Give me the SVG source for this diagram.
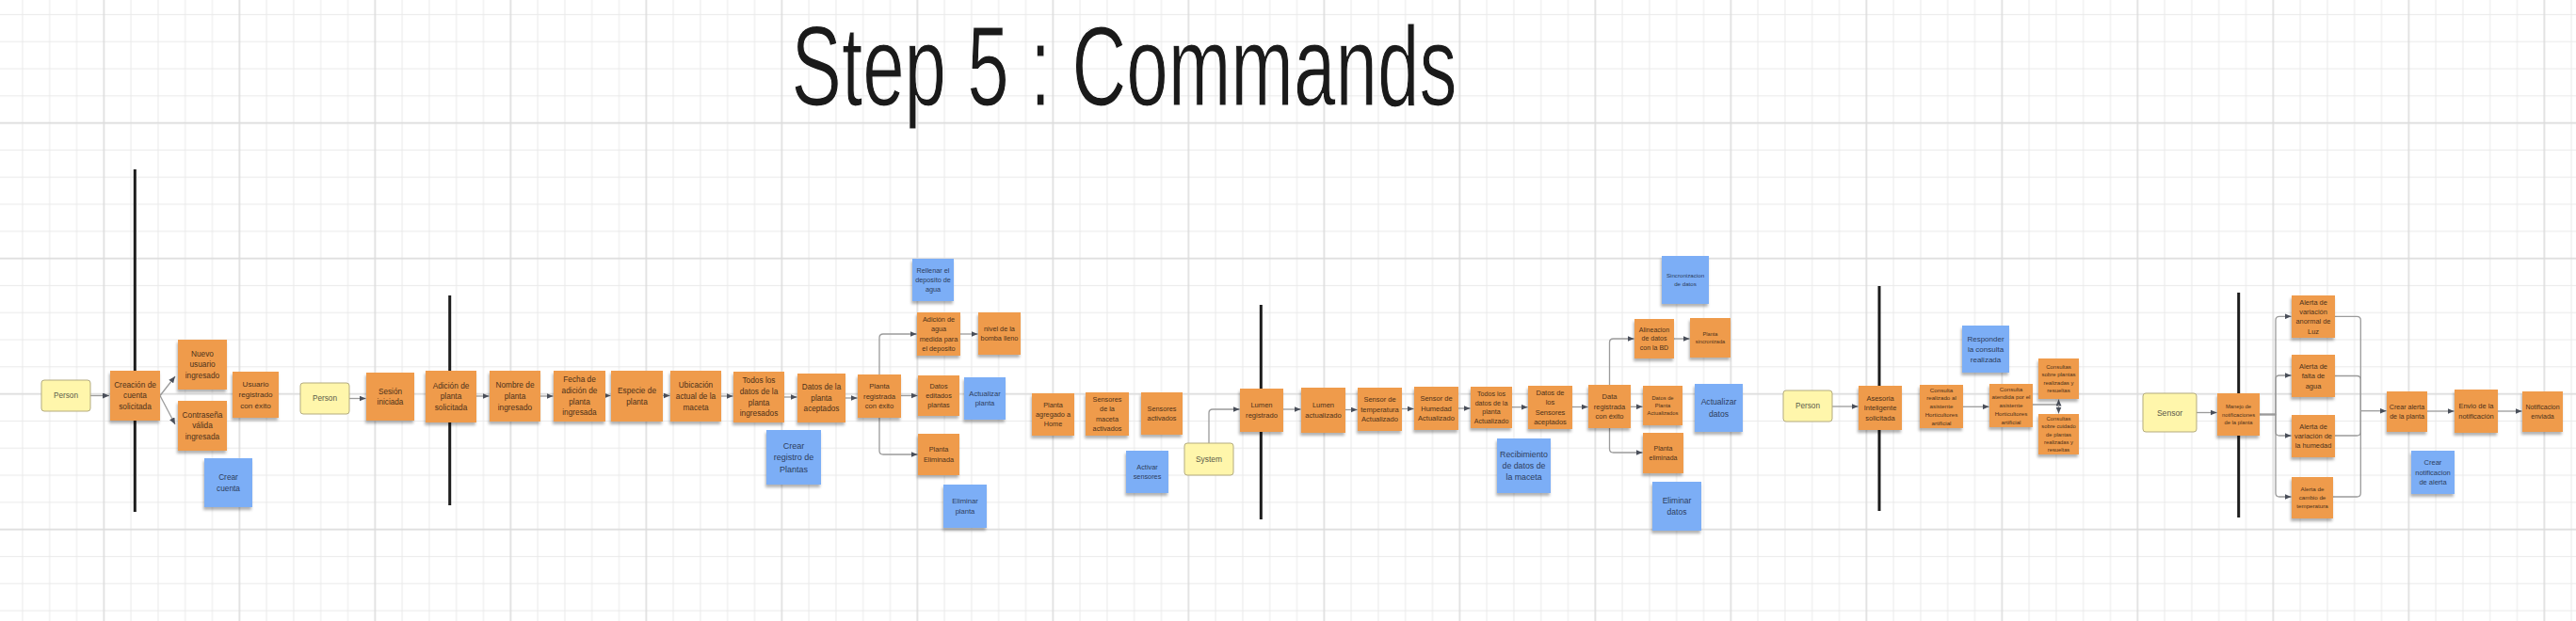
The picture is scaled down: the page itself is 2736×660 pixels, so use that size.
<svg xmlns="http://www.w3.org/2000/svg" width="2736" height="660" viewBox="0 0 2736 660">
<defs>
<pattern id="grid" patternUnits="userSpaceOnUse" x="9.5" y="1.1" width="144" height="144">
<path d="M14.4 0V144M43.2 0V144M72 0V144M129.6 0V144M0 14.4H144M0 43.2H144M0 72H144M0 100.8H144" stroke="#e9e9e9" stroke-width="1" fill="none"/>
<path d="M100.8 0V144M0 129.6H144" stroke="#dcdcdc" stroke-width="1.6" fill="none"/>
</pattern>
<filter id="sh" x="-20%" y="-20%" width="140%" height="150%">
<feDropShadow dx="-1" dy="3" stdDeviation="1.5" flood-color="#000" flood-opacity="0.3"/>
</filter>
<marker id="ah" markerUnits="userSpaceOnUse" markerWidth="8" markerHeight="6" refX="7" refY="3" orient="auto">
<path d="M0,0 L7,3 L0,6 z" fill="#4a4f5a"/>
</marker>
<style>
.o{fill:#ef9b4b;filter:url(#sh)}
.b{fill:#7baef6;filter:url(#sh)}
.y{fill:#fff6ab;stroke:#b3ab7f;stroke-width:1}
text{font-family:"Liberation Sans",Arial,sans-serif;text-anchor:middle}
.to{fill:#4d3119}
.tb{fill:#2c3d5c}
.ty{fill:#5b5a4a}
.c{fill:none;stroke:#9b9b9b;stroke-width:1.3}
.bar{stroke:#1c1c1c;stroke-width:3}
.title{fill:#1a1a1a;stroke:#ffffff;stroke-width:0.8;paint-order:normal}
</style>
</defs>
<rect x="0" y="0" width="2736" height="660" fill="#ffffff"/>
<rect x="0" y="0" width="2736" height="660" fill="url(#grid)"/>
<text class="title" transform="translate(1194,112) scale(1,1.5)" x="0" y="0" font-size="80">Step 5 : Commands</text>

<g id="dividers">
<line class="bar" x1="143.3" y1="180" x2="143.3" y2="544"/>
<line class="bar" x1="477.7" y1="314" x2="477.7" y2="537"/>
<line class="bar" x1="1339.3" y1="324" x2="1339.3" y2="552"/>
<line class="bar" x1="1996" y1="304" x2="1996" y2="543"/>
<line class="bar" x1="2377.7" y1="311" x2="2377.7" y2="550"/>
</g>

<g id="connectors">
<path class="c" marker-end="url(#ah)" d="M96,420.5 H116"/>
<path class="c" marker-end="url(#ah)" d="M170,420.5 L186,400"/>
<path class="c" marker-end="url(#ah)" d="M170,420.5 L186,451"/>
<path class="c" marker-end="url(#ah)" d="M371,423.5 H388.5"/>
<path class="c" marker-end="url(#ah)" d="M506,421 H519.5"/>
<path class="c" marker-end="url(#ah)" d="M574,421 H587.5"/>
<path class="c" marker-end="url(#ah)" d="M643,420.5 H648.5"/>
<path class="c" marker-end="url(#ah)" d="M704,420.5 H711.5"/>
<path class="c" marker-end="url(#ah)" d="M766,421 H778.5"/>
<path class="c" marker-end="url(#ah)" d="M833,422 H846.5"/>
<path class="c" marker-end="url(#ah)" d="M898,423 H910.5"/>
<path class="c" marker-end="url(#ah)" d="M934,398 V359 Q934,355 938,355 H973.5"/>
<path class="c" marker-end="url(#ah)" d="M957,420.5 H974.5"/>
<path class="c" marker-end="url(#ah)" d="M934,444 V479 Q934,483 938,483 H974.5"/>
<path class="c" marker-end="url(#ah)" d="M1020,355 H1038.5"/>
<path class="c" marker-end="url(#ah)" d="M1284,471 V439 Q1284,435 1288,435 H1316.5"/>
<path class="c" marker-end="url(#ah)" d="M1363,435 H1381.5"/>
<path class="c" marker-end="url(#ah)" d="M1429,435.5 H1441.5"/>
<path class="c" marker-end="url(#ah)" d="M1489,434.5 H1501.5"/>
<path class="c" marker-end="url(#ah)" d="M1549,434 H1561.5"/>
<path class="c" marker-end="url(#ah)" d="M1606,432.7 H1622.5"/>
<path class="c" marker-end="url(#ah)" d="M1670,432.5 H1686.5"/>
<path class="c" marker-end="url(#ah)" d="M1709.5,409 V364 Q1709.5,360 1713.5,360 H1735.5"/>
<path class="c" marker-end="url(#ah)" d="M1732,432.3 H1744.5"/>
<path class="c" marker-end="url(#ah)" d="M1709.5,455 V477 Q1709.5,481 1713.5,481 H1744.5"/>
<path class="c" marker-end="url(#ah)" d="M1778,360 H1794.5"/>
<path class="c" marker-end="url(#ah)" d="M1946,432 H1973.5"/>
<path class="c" marker-end="url(#ah)" d="M2085,432.3 H2112.5"/>
<path class="c" marker-end="url(#ah)" d="M2159,430 H2186.5 V424.5"/>
<path class="c" marker-end="url(#ah)" d="M2186.5,430 V439.5"/>
<path class="c" marker-end="url(#ah)" d="M2333,438.5 H2354.5"/>
<path class="c" marker-end="url(#ah)" d="M2400,440.5 H2417 V340.3 Q2417,336.3 2421,336.3 H2433.5"/>
<path class="c" marker-end="url(#ah)" d="M2400,440.5 H2417 V403 Q2417,399 2421,399 H2433.5"/>
<path class="c" marker-end="url(#ah)" d="M2400,440.5 H2417 V459 Q2417,463 2421,463 H2433.5"/>
<path class="c" marker-end="url(#ah)" d="M2400,440.5 H2417 V524 Q2417,528 2421,528 H2433.5"/>
<path class="c" d="M2480,336.3 H2503.3 Q2507.3,336.3 2507.3,340.3 V436.7"/>
<path class="c" d="M2480,399.5 H2503.3 Q2507.3,399.5 2507.3,403.5 V436.7"/>
<path class="c" d="M2480,463 H2503.3 Q2507.3,463 2507.3,459 V436.7"/>
<path class="c" d="M2478,528 H2503.3 Q2507.3,528 2507.3,524 V436.7"/>
<path class="c" marker-end="url(#ah)" d="M2507.3,436.7 H2534.5"/>
<path class="c" marker-end="url(#ah)" d="M2578,437 H2606.5"/>
<path class="c" marker-end="url(#ah)" d="M2653,437 H2678.5"/>
</g>

<g id="n-person-1"><rect class="y" x="44" y="404" width="52" height="33" rx="3"/><text class="ty" x="70" y="420.5" font-size="8.2"><tspan x="70" dy="0.35em">Person</tspan></text></g>
<g id="n-creacion-cuenta"><rect class="o" x="117" y="394" width="53" height="53"/><text class="to" x="143.5" y="420.5" font-size="8.3"><tspan x="143.5" dy="-1.05em">Creación de</tspan><tspan x="143.5" dy="1.4em">cuenta</tspan><tspan x="143.5" dy="1.4em">solicitada</tspan></text></g>
<g id="n-nuevo-usuario"><rect class="o" x="189" y="361" width="52" height="53"/><text class="to" x="215" y="387.5" font-size="8.3"><tspan x="215" dy="-1.05em">Nuevo</tspan><tspan x="215" dy="1.4em">usuario</tspan><tspan x="215" dy="1.4em">ingresado</tspan></text></g>
<g id="n-contrasena"><rect class="o" x="189" y="426" width="52" height="53"/><text class="to" x="215" y="452.5" font-size="8.3"><tspan x="215" dy="-1.05em">Contraseña</tspan><tspan x="215" dy="1.4em">válida</tspan><tspan x="215" dy="1.4em">ingresada</tspan></text></g>
<g id="n-crear-cuenta"><rect class="b" x="217" y="487" width="51" height="52"/><text class="tb" x="242.5" y="513" font-size="8.3"><tspan x="242.5" dy="-0.35em">Crear</tspan><tspan x="242.5" dy="1.4em">cuenta</tspan></text></g>
<g id="n-usuario-registrado"><rect class="o" x="247" y="395" width="49" height="49"/><text class="to" x="271.5" y="419.5" font-size="8.1"><tspan x="271.5" dy="-1.05em">Usuario</tspan><tspan x="271.5" dy="1.4em">registrado</tspan><tspan x="271.5" dy="1.4em">con éxito</tspan></text></g>

<g id="n-person-2"><rect class="y" x="319" y="407" width="52" height="33" rx="3"/><text class="ty" x="345" y="423.5" font-size="8.2"><tspan x="345" dy="0.35em">Person</tspan></text></g>
<g id="n-sesion"><rect class="o" x="389" y="396" width="51" height="51"/><text class="to" x="414.5" y="421.5" font-size="8.2"><tspan x="414.5" dy="-0.35em">Sesión</tspan><tspan x="414.5" dy="1.4em">iniciada</tspan></text></g>
<g id="n-adicion-planta"><rect class="o" x="452" y="394" width="54" height="55"/><text class="to" x="479" y="421.5" font-size="8.3"><tspan x="479" dy="-1.05em">Adición de</tspan><tspan x="479" dy="1.4em">planta</tspan><tspan x="479" dy="1.4em">solicitada</tspan></text></g>
<g id="n-nombre"><rect class="o" x="520" y="394" width="54" height="54"/><text class="to" x="547" y="421" font-size="8.3"><tspan x="547" dy="-1.05em">Nombre de</tspan><tspan x="547" dy="1.4em">planta</tspan><tspan x="547" dy="1.4em">ingresado</tspan></text></g>
<g id="n-fecha"><rect class="o" x="588" y="394" width="55" height="54"/><text class="to" x="615.5" y="421" font-size="8.3"><tspan x="615.5" dy="-1.75em">Fecha de</tspan><tspan x="615.5" dy="1.4em">adición de</tspan><tspan x="615.5" dy="1.4em">planta</tspan><tspan x="615.5" dy="1.4em">ingresada</tspan></text></g>
<g id="n-especie"><rect class="o" x="649" y="394" width="55" height="54"/><text class="to" x="676.5" y="421" font-size="8.3"><tspan x="676.5" dy="-0.35em">Especie de</tspan><tspan x="676.5" dy="1.4em">planta</tspan></text></g>
<g id="n-ubicacion"><rect class="o" x="712" y="394" width="54" height="54"/><text class="to" x="739" y="421" font-size="8.3"><tspan x="739" dy="-1.05em">Ubicación</tspan><tspan x="739" dy="1.4em">actual de la</tspan><tspan x="739" dy="1.4em">maceta</tspan></text></g>
<g id="n-todos-ingresados"><rect class="o" x="779" y="395" width="54" height="54"/><text class="to" x="806" y="422" font-size="8.3"><tspan x="806" dy="-1.75em">Todos los</tspan><tspan x="806" dy="1.4em">datos de la</tspan><tspan x="806" dy="1.4em">planta</tspan><tspan x="806" dy="1.4em">ingresados</tspan></text></g>
<g id="n-datos-aceptados"><rect class="o" x="847" y="397" width="51" height="52"/><text class="to" x="872.5" y="423" font-size="8.2"><tspan x="872.5" dy="-1.05em">Datos de la</tspan><tspan x="872.5" dy="1.4em">planta</tspan><tspan x="872.5" dy="1.4em">aceptados</tspan></text></g>
<g id="n-crear-registro"><rect class="b" x="814" y="457" width="58" height="58"/><text class="tb" x="843" y="486" font-size="9"><tspan x="843" dy="-1.05em">Crear</tspan><tspan x="843" dy="1.4em">registro de</tspan><tspan x="843" dy="1.4em">Plantas</tspan></text></g>
<g id="n-planta-registrada"><rect class="o" x="911" y="398" width="46" height="46"/><text class="to" x="934" y="421" font-size="7.6"><tspan x="934" dy="-1.05em">Planta</tspan><tspan x="934" dy="1.4em">registrada</tspan><tspan x="934" dy="1.4em">con éxito</tspan></text></g>
<g id="n-rellenar"><rect class="b" x="969" y="275" width="44" height="45"/><text class="tb" x="991" y="297.5" font-size="7.3"><tspan x="991" dy="-1.05em">Rellenar el</tspan><tspan x="991" dy="1.4em">deposito de</tspan><tspan x="991" dy="1.4em">agua</tspan></text></g>
<g id="n-adicion-agua"><rect class="o" x="974" y="332" width="46" height="46"/><text class="to" x="997" y="355" font-size="7.3"><tspan x="997" dy="-1.75em">Adición de</tspan><tspan x="997" dy="1.4em">agua</tspan><tspan x="997" dy="1.4em">medida para</tspan><tspan x="997" dy="1.4em">el deposito</tspan></text></g>
<g id="n-nivel-bomba"><rect class="o" x="1039" y="332" width="45" height="45"/><text class="to" x="1061.5" y="354.5" font-size="7.3"><tspan x="1061.5" dy="-0.35em">nivel de la</tspan><tspan x="1061.5" dy="1.4em">bomba lleno</tspan></text></g>
<g id="n-datos-editados"><rect class="o" x="975" y="399" width="44" height="43"/><text class="to" x="997" y="420.5" font-size="7.3"><tspan x="997" dy="-1.05em">Datos</tspan><tspan x="997" dy="1.4em">editados</tspan><tspan x="997" dy="1.4em">plantas</tspan></text></g>
<g id="n-actualizar-planta"><rect class="b" x="1024" y="401" width="44" height="45"/><text class="tb" x="1046" y="423.5" font-size="7.6"><tspan x="1046" dy="-0.35em">Actualizar</tspan><tspan x="1046" dy="1.4em">planta</tspan></text></g>
<g id="n-planta-eliminada-1"><rect class="o" x="975" y="461" width="44" height="44"/><text class="to" x="997" y="483" font-size="7.3"><tspan x="997" dy="-0.35em">Planta</tspan><tspan x="997" dy="1.4em">Eliminada</tspan></text></g>
<g id="n-eliminar-planta"><rect class="b" x="1002" y="515" width="46" height="46"/><text class="tb" x="1025" y="538" font-size="7.6"><tspan x="1025" dy="-0.35em">Eliminar</tspan><tspan x="1025" dy="1.4em">planta</tspan></text></g>
<g id="n-planta-home"><rect class="o" x="1096" y="418" width="45" height="45"/><text class="to" x="1118.5" y="440.5" font-size="7.3"><tspan x="1118.5" dy="-1.05em">Planta</tspan><tspan x="1118.5" dy="1.4em">agregado a</tspan><tspan x="1118.5" dy="1.4em">Home</tspan></text></g>
<g id="n-sensores-maceta"><rect class="o" x="1153" y="417" width="46" height="46"/><text class="to" x="1176" y="440" font-size="7.3"><tspan x="1176" dy="-1.75em">Sensores</tspan><tspan x="1176" dy="1.4em">de la</tspan><tspan x="1176" dy="1.4em">maceta</tspan><tspan x="1176" dy="1.4em">activados</tspan></text></g>
<g id="n-sensores-activados"><rect class="o" x="1212" y="417" width="44" height="45"/><text class="to" x="1234" y="439.5" font-size="7.3"><tspan x="1234" dy="-0.35em">Sensores</tspan><tspan x="1234" dy="1.4em">activados</tspan></text></g>
<g id="n-activar-sensores"><rect class="b" x="1196" y="479" width="45" height="45"/><text class="tb" x="1218.5" y="501.5" font-size="7.3"><tspan x="1218.5" dy="-0.35em">Activar</tspan><tspan x="1218.5" dy="1.4em">sensores</tspan></text></g>
<g id="n-system"><rect class="y" x="1258" y="471" width="52" height="34" rx="3"/><text class="ty" x="1284" y="488" font-size="8.4"><tspan x="1284" dy="0.35em">System</tspan></text></g>
<g id="n-lumen-registrado"><rect class="o" x="1317" y="413" width="46" height="46"/><text class="to" x="1340" y="436" font-size="7.6"><tspan x="1340" dy="-0.35em">Lumen</tspan><tspan x="1340" dy="1.4em">registrado</tspan></text></g>
<g id="n-lumen-actualizado"><rect class="o" x="1382" y="412" width="47" height="48"/><text class="to" x="1405.5" y="436" font-size="7.6"><tspan x="1405.5" dy="-0.35em">Lumen</tspan><tspan x="1405.5" dy="1.4em">actualizado</tspan></text></g>
<g id="n-sensor-temperatura"><rect class="o" x="1442" y="412" width="47" height="46"/><text class="to" x="1465.5" y="435" font-size="7.5"><tspan x="1465.5" dy="-1.05em">Sensor de</tspan><tspan x="1465.5" dy="1.4em">temperatura</tspan><tspan x="1465.5" dy="1.4em">Actualizado</tspan></text></g>
<g id="n-sensor-humedad"><rect class="o" x="1502" y="411" width="47" height="46"/><text class="to" x="1525.5" y="434" font-size="7.5"><tspan x="1525.5" dy="-1.05em">Sensor de</tspan><tspan x="1525.5" dy="1.4em">Humedad</tspan><tspan x="1525.5" dy="1.4em">Actualizado</tspan></text></g>
<g id="n-todos-actualizado"><rect class="o" x="1562" y="411" width="44" height="44"/><text class="to" x="1584" y="433" font-size="7.1"><tspan x="1584" dy="-1.75em">Todos los</tspan><tspan x="1584" dy="1.4em">datos de la</tspan><tspan x="1584" dy="1.4em">planta</tspan><tspan x="1584" dy="1.4em">Actualizado</tspan></text></g>
<g id="n-recibimiento"><rect class="b" x="1590" y="466" width="57" height="58"/><text class="tb" x="1618.5" y="495" font-size="8.8"><tspan x="1618.5" dy="-1.05em">Recibimiento</tspan><tspan x="1618.5" dy="1.4em">de datos de</tspan><tspan x="1618.5" dy="1.4em">la maceta</tspan></text></g>
<g id="n-datos-sensores"><rect class="o" x="1623" y="410" width="47" height="46"/><text class="to" x="1646.5" y="433" font-size="7.5"><tspan x="1646.5" dy="-1.75em">Datos de</tspan><tspan x="1646.5" dy="1.4em">los</tspan><tspan x="1646.5" dy="1.4em">Sensores</tspan><tspan x="1646.5" dy="1.4em">aceptados</tspan></text></g>
<g id="n-data-registrada"><rect class="o" x="1687" y="409" width="45" height="46"/><text class="to" x="1709.5" y="432" font-size="7.5"><tspan x="1709.5" dy="-1.05em">Data</tspan><tspan x="1709.5" dy="1.4em">registrada</tspan><tspan x="1709.5" dy="1.4em">con éxito</tspan></text></g>
<g id="n-alineacion"><rect class="o" x="1736" y="339" width="42" height="42"/><text class="to" x="1757" y="360" font-size="7"><tspan x="1757" dy="-1.05em">Alineacion</tspan><tspan x="1757" dy="1.4em">de datos</tspan><tspan x="1757" dy="1.4em">con la BD</tspan></text></g>
<g id="n-planta-sincronizada"><rect class="o" x="1795" y="338" width="43" height="42"/><text class="to" x="1816.5" y="359" font-size="5.6"><tspan x="1816.5" dy="-0.35em">Planta</tspan><tspan x="1816.5" dy="1.4em">sincronizada</tspan></text></g>
<g id="n-sincronizacion"><rect class="b" x="1765" y="272" width="50" height="51"/><text class="tb" x="1790" y="297.5" font-size="6.2"><tspan x="1790" dy="-0.35em">Sincronizacion</tspan><tspan x="1790" dy="1.4em">de datos</tspan></text></g>
<g id="n-datos-planta-actualizados"><rect class="o" x="1745" y="410" width="42" height="42"/><text class="to" x="1766" y="431" font-size="5.8"><tspan x="1766" dy="-1.05em">Datos de</tspan><tspan x="1766" dy="1.4em">Planta</tspan><tspan x="1766" dy="1.4em">Actualizados</tspan></text></g>
<g id="n-actualizar-datos"><rect class="b" x="1800" y="408" width="51" height="51"/><text class="tb" x="1825.5" y="433.5" font-size="8.6"><tspan x="1825.5" dy="-0.35em">Actualizar</tspan><tspan x="1825.5" dy="1.4em">datos</tspan></text></g>
<g id="n-planta-eliminada-2"><rect class="o" x="1745" y="460" width="43" height="43"/><text class="to" x="1766.5" y="481.5" font-size="7"><tspan x="1766.5" dy="-0.35em">Planta</tspan><tspan x="1766.5" dy="1.4em">eliminada</tspan></text></g>
<g id="n-eliminar-datos"><rect class="b" x="1755" y="512" width="52" height="52"/><text class="tb" x="1781" y="538" font-size="8.5"><tspan x="1781" dy="-0.35em">Eliminar</tspan><tspan x="1781" dy="1.4em">datos</tspan></text></g>

<g id="n-person-3"><rect class="y" x="1894" y="415" width="52" height="33" rx="3"/><text class="ty" x="1920" y="431.5" font-size="8.2"><tspan x="1920" dy="0.35em">Person</tspan></text></g>
<g id="n-asesoria"><rect class="o" x="1974" y="410" width="46" height="47"/><text class="to" x="1997" y="433.5" font-size="7.5"><tspan x="1997" dy="-1.05em">Asesoria</tspan><tspan x="1997" dy="1.4em">Inteligente</tspan><tspan x="1997" dy="1.4em">solicitada</tspan></text></g>
<g id="n-consulta-realizado"><rect class="o" x="2039" y="409" width="46" height="46"/><text class="to" x="2062" y="432" font-size="6.2"><tspan x="2062" dy="-2.45em">Consulta</tspan><tspan x="2062" dy="1.4em">realizado al</tspan><tspan x="2062" dy="1.4em">asistente</tspan><tspan x="2062" dy="1.4em">Horticultores</tspan><tspan x="2062" dy="1.4em">artificial</tspan></text></g>
<g id="n-consulta-atendida"><rect class="o" x="2113" y="408" width="46" height="46"/><text class="to" x="2136" y="431" font-size="6.2"><tspan x="2136" dy="-2.45em">Consulta</tspan><tspan x="2136" dy="1.4em">atendida por el</tspan><tspan x="2136" dy="1.4em">asistente</tspan><tspan x="2136" dy="1.4em">Horticultores</tspan><tspan x="2136" dy="1.4em">artificial</tspan></text></g>
<g id="n-responder"><rect class="b" x="2084" y="346" width="50" height="50"/><text class="tb" x="2109" y="371" font-size="8"><tspan x="2109" dy="-1.05em">Responder</tspan><tspan x="2109" dy="1.4em">la consulta</tspan><tspan x="2109" dy="1.4em">realizada</tspan></text></g>
<g id="n-consultas-plantas"><rect class="o" x="2165" y="381" width="43" height="43"/><text class="to" x="2186.5" y="402.5" font-size="6"><tspan x="2186.5" dy="-1.75em">Consultas</tspan><tspan x="2186.5" dy="1.4em">sobre plantas</tspan><tspan x="2186.5" dy="1.4em">realizadas y</tspan><tspan x="2186.5" dy="1.4em">resueltas</tspan></text></g>
<g id="n-consultas-cuidado"><rect class="o" x="2165" y="440" width="43" height="43"/><text class="to" x="2186.5" y="461.5" font-size="5.8"><tspan x="2186.5" dy="-2.45em">Consultas</tspan><tspan x="2186.5" dy="1.4em">sobre cuidado</tspan><tspan x="2186.5" dy="1.4em">de plantas</tspan><tspan x="2186.5" dy="1.4em">realizadas y</tspan><tspan x="2186.5" dy="1.4em">resueltas</tspan></text></g>

<g id="n-sensor"><rect class="y" x="2276" y="418" width="57" height="41" rx="3"/><text class="ty" x="2304.5" y="438.5" font-size="8.6"><tspan x="2304.5" dy="0.35em">Sensor</tspan></text></g>
<g id="n-manejo"><rect class="o" x="2355" y="418" width="45" height="45"/><text class="to" x="2377.5" y="440.5" font-size="5.8"><tspan x="2377.5" dy="-1.05em">Manejo de</tspan><tspan x="2377.5" dy="1.4em">notificaciones</tspan><tspan x="2377.5" dy="1.4em">de la planta</tspan></text></g>
<g id="n-alerta-luz"><rect class="o" x="2434" y="314" width="46" height="45"/><text class="to" x="2457" y="336.5" font-size="7.4"><tspan x="2457" dy="-1.75em">Alerta de</tspan><tspan x="2457" dy="1.4em">variación</tspan><tspan x="2457" dy="1.4em">anormal de</tspan><tspan x="2457" dy="1.4em">Luz</tspan></text></g>
<g id="n-alerta-agua"><rect class="o" x="2434" y="377" width="46" height="45"/><text class="to" x="2457" y="399.5" font-size="7.5"><tspan x="2457" dy="-1.05em">Alerta de</tspan><tspan x="2457" dy="1.4em">falta de</tspan><tspan x="2457" dy="1.4em">agua</tspan></text></g>
<g id="n-alerta-humedad"><rect class="o" x="2434" y="441" width="46" height="45"/><text class="to" x="2457" y="463.5" font-size="7.4"><tspan x="2457" dy="-1.05em">Alerta de</tspan><tspan x="2457" dy="1.4em">variación de</tspan><tspan x="2457" dy="1.4em">la humedad</tspan></text></g>
<g id="n-alerta-temperatura"><rect class="o" x="2434" y="507" width="44" height="44"/><text class="to" x="2456" y="529" font-size="6.2"><tspan x="2456" dy="-1.05em">Alerta de</tspan><tspan x="2456" dy="1.4em">cambio de</tspan><tspan x="2456" dy="1.4em">temperatura</tspan></text></g>
<g id="n-crear-alerta"><rect class="o" x="2535" y="416" width="43" height="43"/><text class="to" x="2556.5" y="437.5" font-size="7.1"><tspan x="2556.5" dy="-0.35em">Crear alerta</tspan><tspan x="2556.5" dy="1.4em">de la planta</tspan></text></g>
<g id="n-envio"><rect class="o" x="2607" y="414" width="46" height="46"/><text class="to" x="2630" y="437" font-size="7.5"><tspan x="2630" dy="-0.35em">Envio de la</tspan><tspan x="2630" dy="1.4em">notificación</tspan></text></g>
<g id="n-notificacion-enviada"><rect class="o" x="2679" y="416" width="43" height="43"/><text class="to" x="2700.5" y="437.5" font-size="7"><tspan x="2700.5" dy="-0.35em">Notificacion</tspan><tspan x="2700.5" dy="1.4em">enviada</tspan></text></g>
<g id="n-crear-notificacion"><rect class="b" x="2561" y="479" width="46" height="46"/><text class="tb" x="2584" y="502" font-size="7.5"><tspan x="2584" dy="-1.05em">Crear</tspan><tspan x="2584" dy="1.4em">notificacion</tspan><tspan x="2584" dy="1.4em">de alerta</tspan></text></g>
</svg>
